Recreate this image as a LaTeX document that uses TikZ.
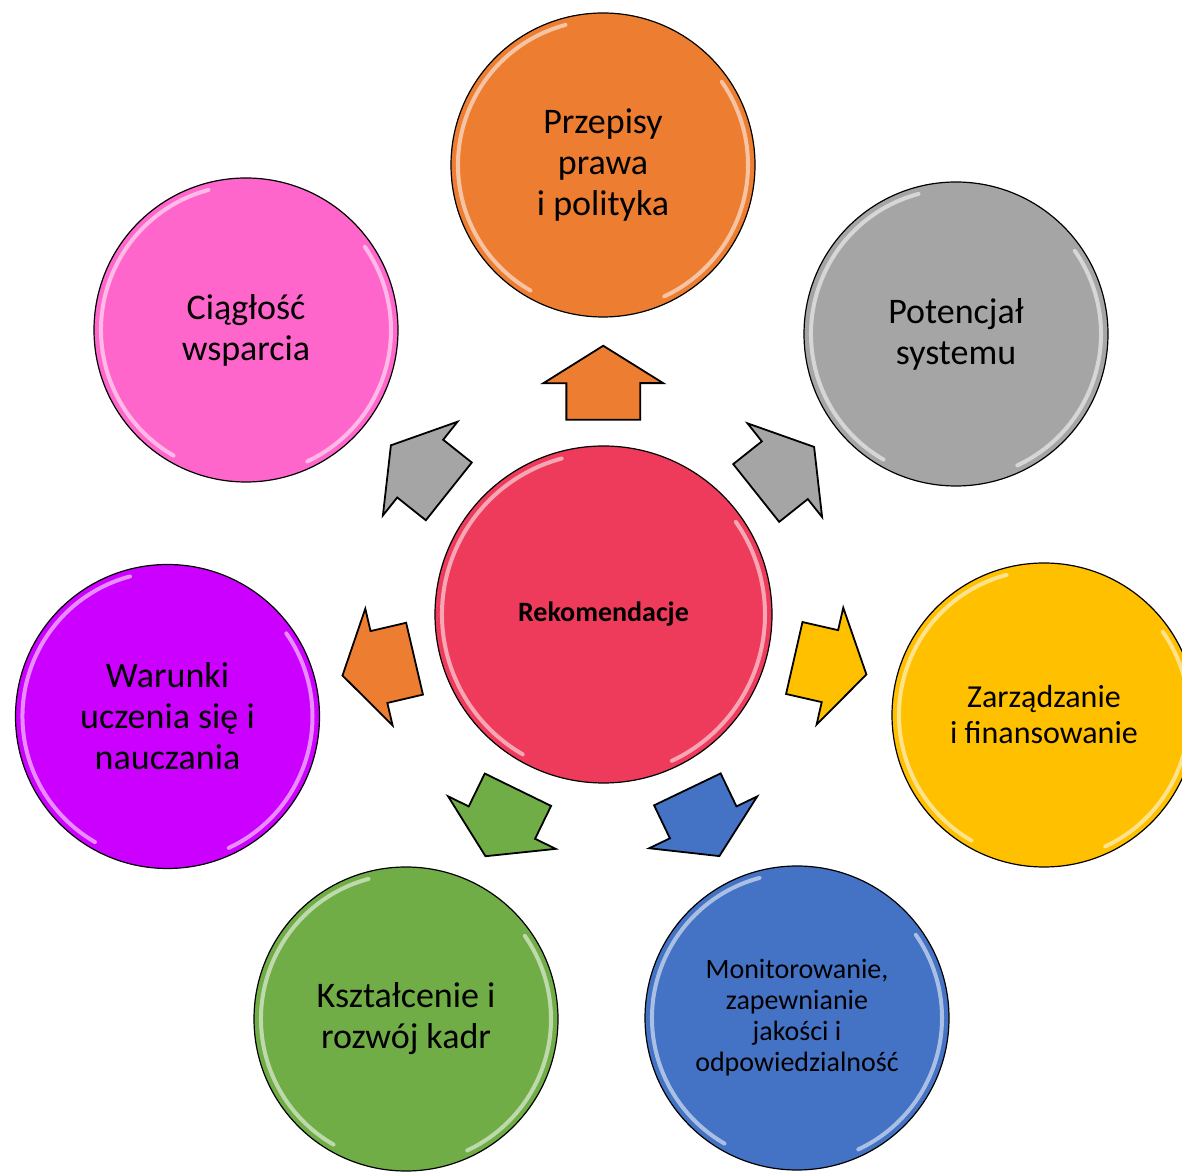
\documentclass[tikz,border=0pt]{standalone}
\usepackage{fontspec}
\setmainfont{Carlito}
\usetikzlibrary{shapes.arrows,calc}
\definecolor{rekom}{RGB}{239,59,91}
\definecolor{orange1}{RGB}{237,125,49}
\definecolor{gray1}{RGB}{165,165,165}
\definecolor{gold1}{RGB}{255,192,0}
\definecolor{blue1}{RGB}{68,114,196}
\definecolor{green1}{RGB}{112,173,71}
\definecolor{purple1}{RGB}{204,0,255}
\definecolor{pink1}{RGB}{255,102,204}
\begin{document}
\begin{tikzpicture}[x=1pt, y=1pt,
	main/.style = {draw, circle, line width=1.2pt, minimum size=304pt, inner sep=0pt, align=center,
		font=\fontsize{36}{41}\selectfont,
		path picture={
			\draw[white, opacity=.55, line width=4pt, line cap=round]
				let \p1=(path picture bounding box.north), \p2=(path picture bounding box.center),
				\n1={\y1-\y2-7} in
				($(\p2)+(105:\n1)$) arc[start angle=105, end angle=240, radius=\n1]
				($(\p2)+(-65:\n1)$) arc[start angle=-65, end angle=35, radius=\n1];
		}},
	arr/.style = {draw, single arrow, line width=1.8pt, minimum height=74pt, minimum width=118pt,
		single arrow head extend=23pt, single arrow tip angle=116, inner xsep=0pt, inner ysep=36pt,
		sloped, allow upside down, pos=.4}]
	\useasboundingbox (0,0) rectangle (1182,1172);
	\clip (0,0) rectangle (1182,1172);
	\node[main, fill=rekom, minimum size=337pt, font=\bfseries\fontsize{28}{32}\selectfont] (0) at (603.5,557.5) {Rekomendacje};
	\node[main, fill=orange1] (1) at (603,1007) {Przepisy\\prawa\\i polityka};
	\node[main, fill=gray1] (2) at (956,838) {Potencjał\\systemu};
	\node[main, fill=gold1, font=\fontsize{32}{36}\selectfont] (3) at (1044,457) {Zarządzanie\\i finansowanie};
	\node[main, fill=blue1, font=\fontsize{28}{31}\selectfont] (4) at (797,154) {Monitorowanie,\\zapewnianie\\jakości i\\odpowiedzialność};
	\node[main, fill=green1] (5) at (406,153) {Kształcenie i\\rozwój kadr};
	\node[main, fill=purple1] (6) at (167.5,455.5) {Warunki\\uczenia się i\\nauczania};
	\node[main, fill=pink1] (7) at (246,842) {Ciągłość\\wsparcia};
	\path (0) -- node[arr, fill=orange1] (a1) {} (1);
	\path (0) -- node[arr, fill=gray1] (a2) {} (2);
	\path (0) -- node[arr, fill=gold1] (a3) {} (3);
	\path (0) -- node[arr, fill=blue1] (a4) {} (4);
	\path (0) -- node[arr, fill=green1] (a5) {} (5);
	\path (0) -- node[arr, fill=orange1] (a6) {} (6);
	\path (0) -- node[arr, fill=gray1] (a7) {} (7);
\end{tikzpicture}
\end{document}
